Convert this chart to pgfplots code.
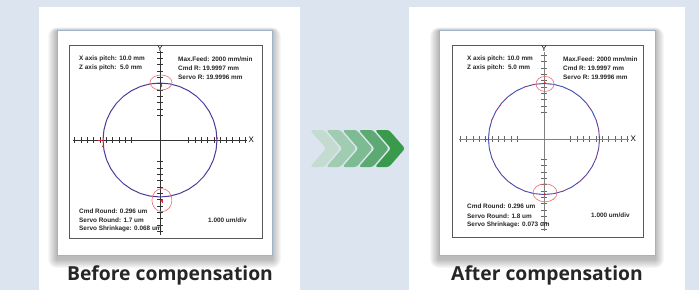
\documentclass[border=0pt]{standalone}
\usepackage{pgfplots}
\pgfplotsset{compat=1.18}
\usepackage{fontspec}
\setmainfont{Liberation Sans}
\newfontfamily\titlefont{Open Sans}
\definecolor{bg}{RGB}{220,229,239}
\definecolor{framec}{RGB}{160,180,200}
\definecolor{titlec}{RGB}{38,38,38}
\definecolor{circ}{RGB}{75,60,155}
\definecolor{circb}{RGB}{60,80,190}
\definecolor{redc}{RGB}{225,40,50}
\definecolor{ellc}{RGB}{235,110,115}
\definecolor{ch1}{RGB}{196,220,207}
\definecolor{ch2}{RGB}{160,205,178}
\definecolor{ch3}{RGB}{125,187,147}
\definecolor{ch4}{RGB}{92,170,114}
\definecolor{ch5}{RGB}{58,154,76}

\pgfplotstableread{
x y
9 0
8.863 1.563
8.457 3.078
7.794 4.5
6.894 5.785
5.785 6.894
4.5 7.794
3.078 8.457
1.563 8.863
0 9
-1.563 8.863
-3.078 8.457
-4.5 7.794
-5.785 6.894
-6.894 5.785
-7.794 4.5
-8.457 3.078
-8.863 1.563
-9 0
-8.863 -1.563
-8.457 -3.078
-7.794 -4.5
-6.894 -5.785
-5.785 -6.894
-4.5 -7.794
-3.078 -8.457
-1.563 -8.863
0 -9
1.563 -8.863
3.078 -8.457
4.5 -7.794
5.785 -6.894
6.894 -5.785
7.794 -4.5
8.457 -3.078
8.863 -1.563
9 0
}\circleA

\pgfplotstableread{
x y
8.77 0
8.637 1.523
8.241 2.999
7.595 4.385
6.718 5.637
5.637 6.718
4.385 7.595
2.999 8.241
1.523 8.637
0 8.77
-1.523 8.637
-2.999 8.241
-4.385 7.595
-5.637 6.718
-6.718 5.637
-7.595 4.385
-8.241 2.999
-8.637 1.523
-8.77 0
-8.637 -1.523
-8.241 -2.999
-7.595 -4.385
-6.718 -5.637
-5.637 -6.718
-4.385 -7.595
-2.999 -8.241
-1.523 -8.637
0 -8.77
1.523 -8.637
2.999 -8.241
4.385 -7.595
5.637 -6.718
6.718 -5.637
7.595 -4.385
8.241 -2.999
8.637 -1.523
8.77 0
}\circleB

\pgfplotsset{
  roundtest/.style={
    anchor=origin, x=6.33pt, y=6.33pt,
    axis lines=middle,
    axis line style={-},
    xticklabel={\relax}, yticklabel={\relax},
    tick align=center, major tick length=5.5pt,
    clip=false,
  },
}

\newcommand{\annfont}{\fontsize{6.4}{7.5}\selectfont\bfseries}

\begin{document}
\begin{tikzpicture}[x=1pt,y=1pt]
\fill[bg] (0,0) rectangle (699,290);
% cards
\fill[white] (39,0) rectangle (300,283);
\fill[white] (409,0) rectangle (685,283);
% shadows
\foreach \k in {1,...,9} {
  \fill[black, opacity=0.03, rounded corners=\k pt] ({57-\k},{31-\k}) rectangle ({272+\k},{259+0.4*\k});
  \fill[black, opacity=0.03, rounded corners=\k pt] ({439-\k},{31-\k}) rectangle ({655+\k},{259+0.4*\k});
}
% frames
\filldraw[fill=white, draw=framec, line width=0.9pt] (57,35) rectangle (272,260);
\filldraw[fill=white, draw=framec, line width=0.9pt] (439,35) rectangle (655,260);
\draw[black!65, line width=0.6pt] (69,52) rectangle (262,245);
\draw[black!65, line width=0.6pt] (452,53) rectangle (643,245);

% ---------- Before ----------
\begin{axis}[roundtest, at={(160pt,150pt)},
  xmin=-13.8, xmax=13.8, ymin=-15.0, ymax=14.0,
  axis line style={black!80, line width=0.6pt},
  every tick/.style={black!80, line width=0.6pt},
  xtick={-13.5,-12.5,-11.5,-10.5,-9.5,-8.5,-7.5,-6.5,-5.5,-4.5,4.5,5.5,6.5,7.5,8.5,9.5,10.5,11.5,12.5,13.5},
  ytick={-14.4,-13.4,-12.4,-11.4,-10.4,-9.4,-8.4,-7.4,-6.4,-5.4,-4.4,-3.4,3.9,4.9,5.9,6.9,7.9,8.9,9.9,10.9,11.9,12.9,13.9},
]
\addplot[circ, line width=1.0pt] table {\circleA};
\addplot[redc, line width=0.9pt] coordinates {(-9.8,0) (-9.0,0)};
\addplot[redc, only marks, mark=*, mark size=0.7pt] coordinates {(-9.0,-1.0) (9.0,0.3) (0.2,8.6) (0.2,-9.6)};
\addplot[redc, line width=0.8pt] coordinates {(0.2,8.3) (0.2,8.9)};
\addplot[redc, line width=0.8pt] coordinates {(0.3,-9.3) (0.3,-9.9)};
\draw[ellc, line width=0.6pt] (axis cs:0.16,9.08) ellipse [x radius=11pt, y radius=7.5pt];
\draw[ellc, line width=0.6pt] (axis cs:0.3,-9.5) ellipse [x radius=10pt, y radius=11.5pt];
\node[anchor=west, inner sep=1pt, font=\fontsize{8}{8}\selectfont] at (axis cs:13.8,0) {X};
\node[anchor=south, inner sep=0.5pt, font=\fontsize{8}{8}\selectfont] at (axis cs:0,13.9) {Y};
\end{axis}

% ---------- After ----------
\begin{axis}[roundtest, at={(544pt,151pt)},
  xmin=-13.5, xmax=13.5, ymin=-14.6, ymax=13.8,
  axis line style={black!50, line width=0.7pt},
  every tick/.style={black!60, line width=0.6pt},
  xtick={-13.2,-12.2,-11.2,-10.2,-9.2,-8.2,-7.2,-6.2,-5.2,-4.2,4.2,5.2,6.2,7.2,8.2,9.2,10.2,11.2,12.2,13.2},
  ytick={-14.2,-13.2,-12.2,-11.2,-10.2,-9.2,-8.2,-7.2,-6.2,-5.2,-4.2,-3.2,4.2,5.2,6.2,7.2,8.2,9.2,10.2,11.2,12.2,13.2},
]
\addplot[circb, line width=0.9pt] table {\circleB};
\addplot[redc, line width=0.5pt, dash pattern=on 3pt off 5pt, opacity=0.7] table {\circleB};
\addplot[redc, line width=0.9pt] coordinates {(-9.5,0) (-8.8,0)};
\addplot[redc, only marks, mark=*, mark size=0.7pt] coordinates {(8.75,0.3) (0.1,8.9) (0.1,-8.7)};
\draw[ellc, line width=0.6pt] (axis cs:0.16,8.7) ellipse [x radius=9pt, y radius=7.5pt];
\draw[ellc, line width=0.6pt] (axis cs:0.16,-8.5) ellipse [x radius=12pt, y radius=9pt];
\node[anchor=west, inner sep=1pt, font=\fontsize{8}{8}\selectfont] at (axis cs:13.5,0) {X};
\node[anchor=south, inner sep=0.5pt, font=\fontsize{8}{8}\selectfont] at (axis cs:0,13.7) {Y};
\end{axis}

% annotations
\begin{scope}[every node/.style={anchor=west, inner sep=0pt, font=\annfont, text=black!85}]
\node at (79,231) {X axis pitch: 10.0 mm};
\node at (79,222) {Z axis pitch:\ \ 5.0 mm};
\node at (178,231) {Max.Feed: 2000 mm/min};
\node at (178,222) {Cmd R: 19.9997 mm};
\node at (178,213) {Servo R: 19.9996 mm};
\node at (79,79) {Cmd Round: 0.296 um};
\node at (79,70) {Servo Round: 1.7 um};
\node at (79,61) {Servo Shrinkage: 0.068 um};
\node at (208,70) {1.000 um/div};
\node at (467,231) {X axis pitch: 10.0 mm};
\node at (467,222) {Z axis pitch:\ \ 5.0 mm};
\node at (563,231) {Max.Feed: 2000 mm/min};
\node at (563,222) {Cmd R: 19.9997 mm};
\node at (563,213) {Servo R: 19.9996 mm};
\node at (467,84) {Cmd Round: 0.296 um};
\node at (467,74) {Servo Round: 1.8 um};
\node at (467,65) {Servo Shrinkage: 0.073 um};
\node at (591,75) {1.000 um/div};
\end{scope}

% chevrons
\foreach \i/\c in {0/ch1,1/ch2,2/ch3,3/ch4,4/ch5} {
  \fill[\c, rounded corners=2.5pt] ({310+16.25*\i},160) -- ++(14,0) -- ++(16,-18.5) -- ++(-16,-18.5) -- ++(-14,0) -- ++(16,18.5) -- cycle;
}

% titles
\node[font=\titlefont\bfseries\fontsize{19.3}{22}\selectfont, text=titlec] at (170,15) {Before compensation};
\node[font=\titlefont\bfseries\fontsize{19.3}{22}\selectfont, text=titlec] at (547,15) {After compensation};

\pgfresetboundingbox
\path (0,0) rectangle (699,290);
\end{tikzpicture}
\end{document}
